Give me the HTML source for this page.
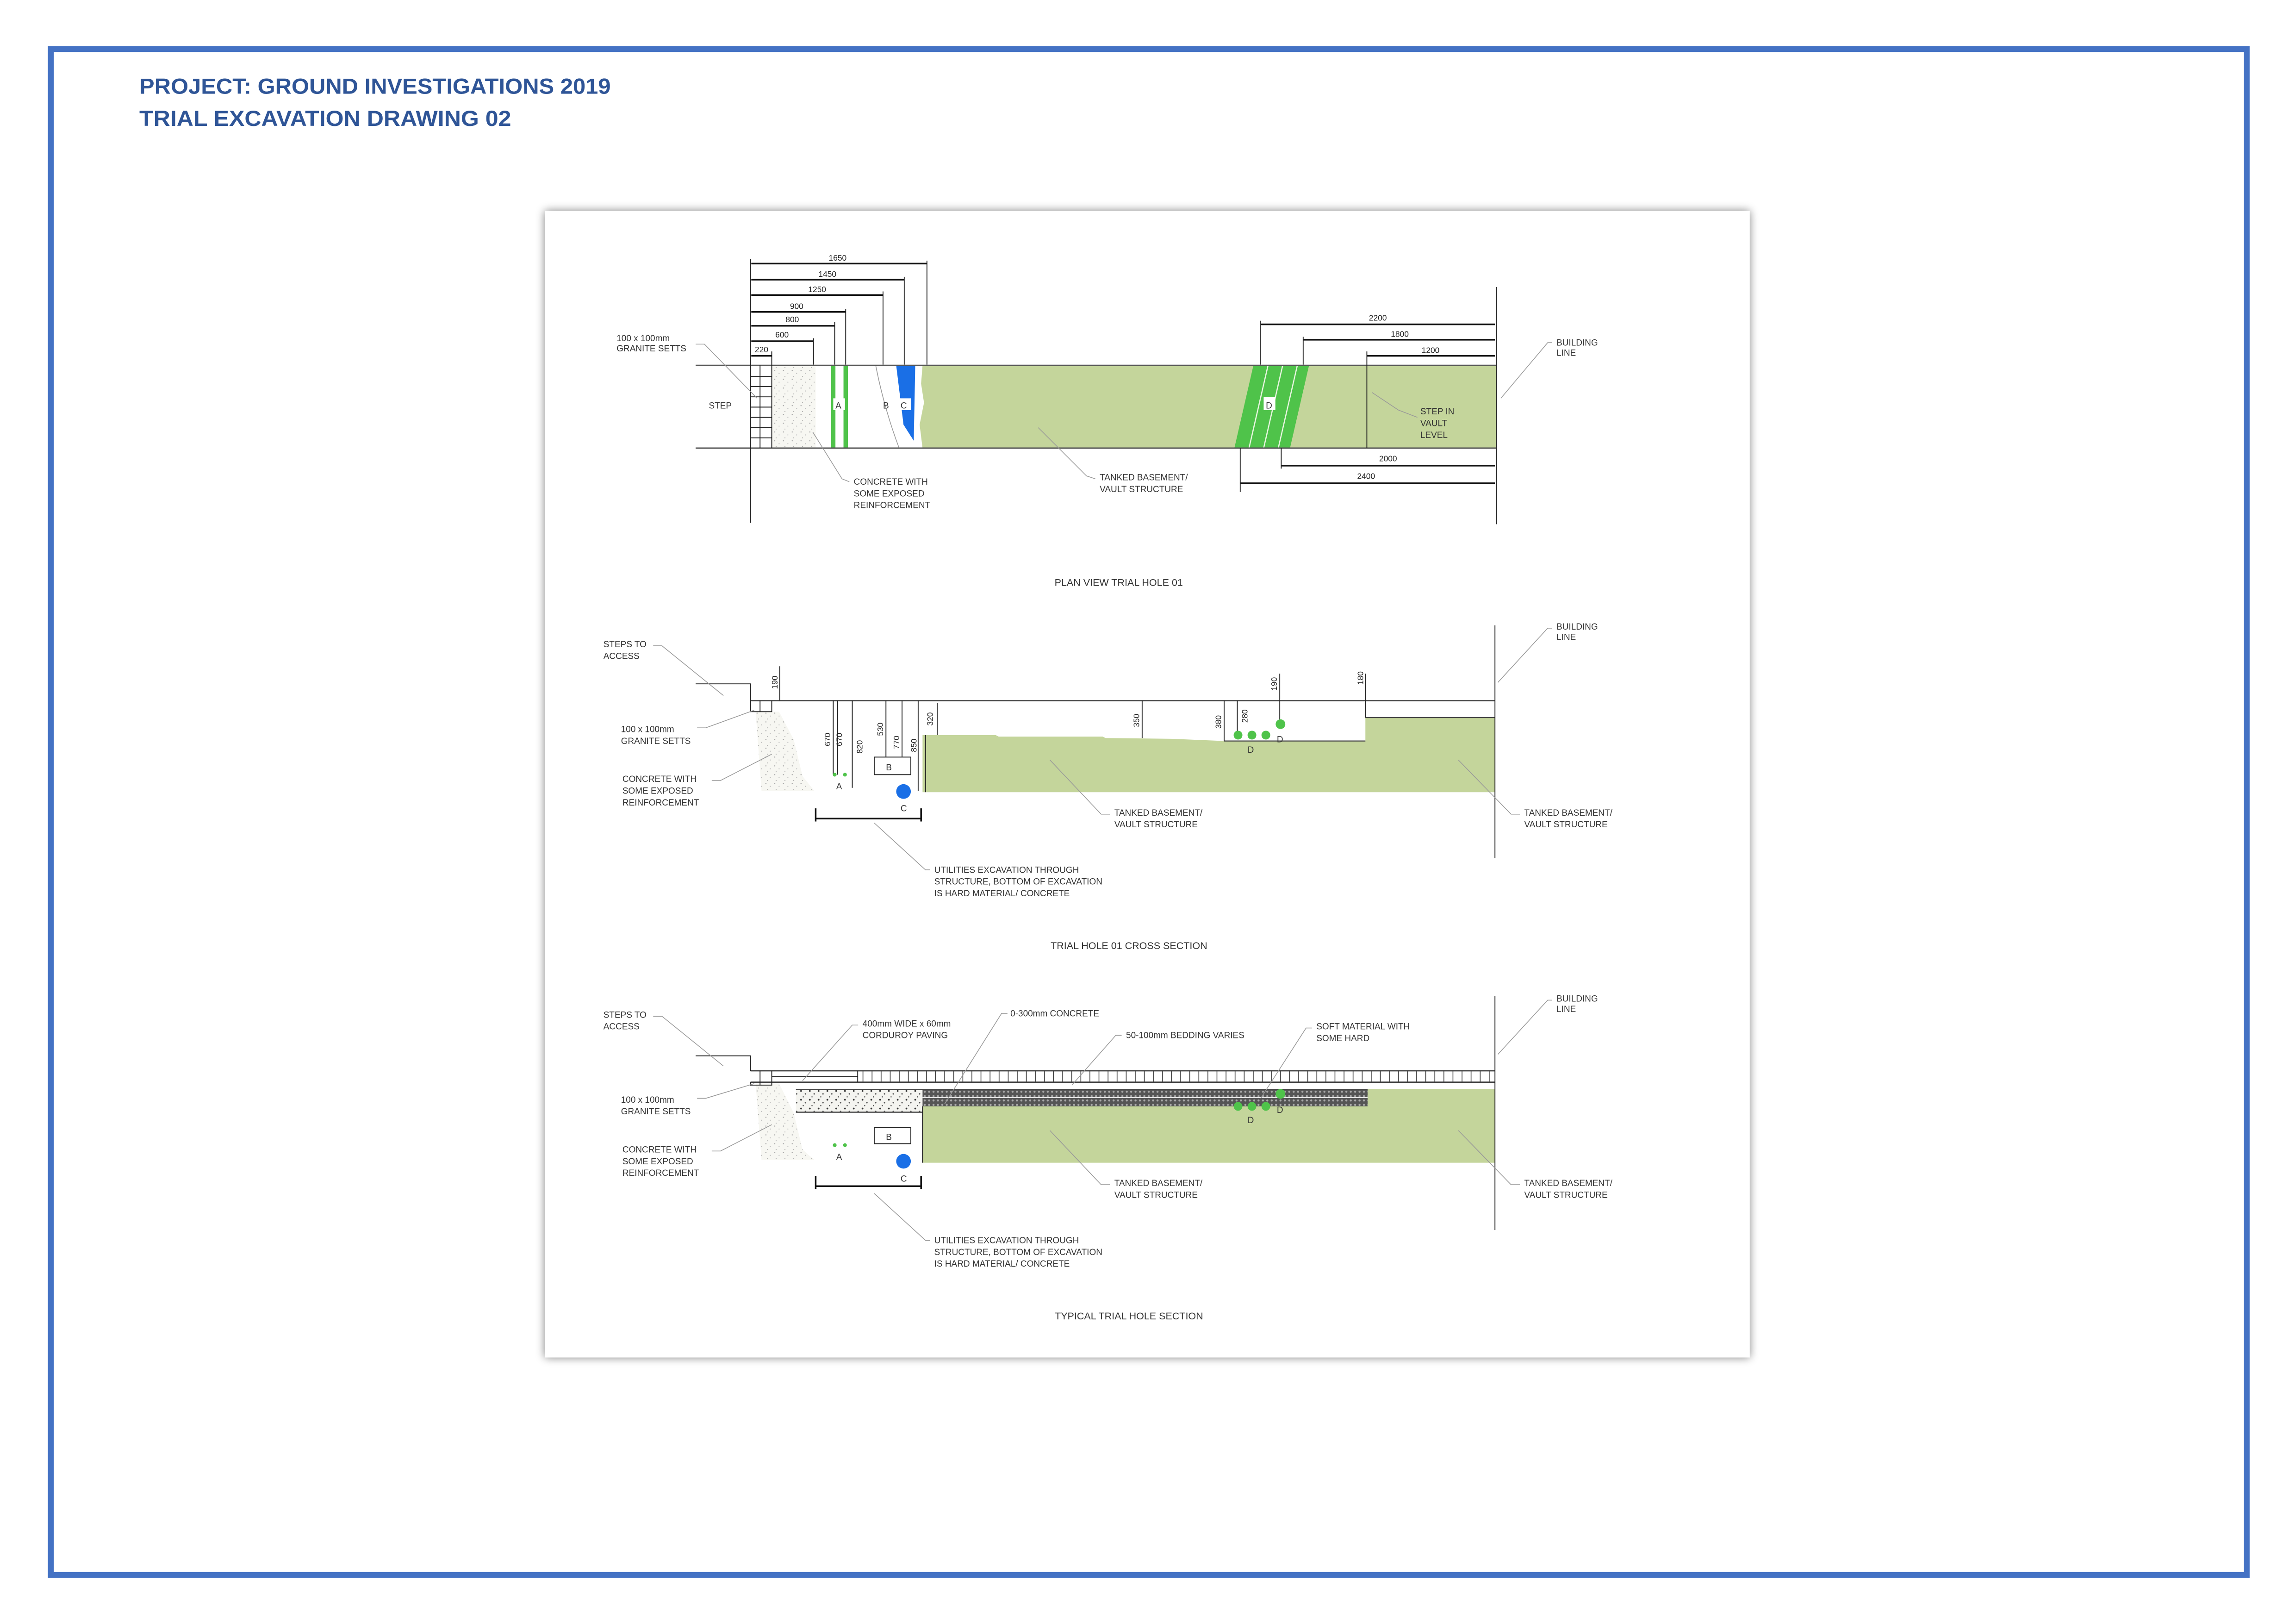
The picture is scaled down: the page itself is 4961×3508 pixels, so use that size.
<!DOCTYPE html>
<html><head><meta charset="utf-8"><style>
html,body{margin:0;padding:0;background:#fff}
svg{display:block}
text{font-family:"Liberation Sans",sans-serif}
.t{font-size:6px;fill:#333}
.d{font-size:5.5px;fill:#222}
.ln{stroke:#222;stroke-width:0.6;fill:none}
.th{stroke:#111;stroke-width:1.1;fill:none}
.ld{stroke:#999;stroke-width:0.5;fill:none}
</style></head><body>
<svg width="4961" height="3508" viewBox="0 0 1568 1109" xmlns="http://www.w3.org/2000/svg">
<defs>
<filter id="sh" x="-5%" y="-5%" width="110%" height="110%"><feGaussianBlur in="SourceAlpha" stdDeviation="3"/><feOffset dx="0" dy="0"/><feComponentTransfer><feFuncA type="linear" slope="0.5"/></feComponentTransfer><feMerge><feMergeNode/><feMergeNode in="SourceGraphic"/></feMerge></filter>
<pattern id="stip" width="6" height="6" patternUnits="userSpaceOnUse"><rect width="6" height="6" fill="#f7f7f2"/><circle cx="1" cy="1" r="0.4" fill="#aaa"/><circle cx="4" cy="3" r="0.35" fill="#bbb"/><circle cx="2" cy="5" r="0.3" fill="#999"/></pattern>
<pattern id="stip2" width="6" height="6" patternUnits="userSpaceOnUse"><rect width="6" height="6" fill="#f4f4f0"/><circle cx="1" cy="1" r="0.6" fill="#333"/><circle cx="4" cy="3" r="0.5" fill="#555"/><circle cx="2.5" cy="5" r="0.4" fill="#444"/></pattern>
<pattern id="cord" width="6.2" height="10" patternUnits="userSpaceOnUse"><line x1="0.3" y1="0" x2="0.3" y2="10" stroke="#333" stroke-width="0.5"/></pattern>
<pattern id="bed" width="3" height="3" patternUnits="userSpaceOnUse"><rect width="3" height="3" fill="#555"/><circle cx="1.5" cy="1.5" r="0.7" fill="#aaa"/></pattern>
</defs>
<rect width="1568" height="1109" fill="#fff"/>
<rect x="34.5" y="33.5" width="1500" height="1042" fill="none" stroke="#4472C4" stroke-width="4"/>
<text x="95" y="64" font-size="15" font-weight="bold" fill="#2F5597" textLength="322" lengthAdjust="spacingAndGlyphs">PROJECT: GROUND INVESTIGATIONS 2019</text>
<text x="95" y="86" font-size="15" font-weight="bold" fill="#2F5597" textLength="254" lengthAdjust="spacingAndGlyphs">TRIAL EXCAVATION DRAWING 02</text>
<rect x="372" y="144" width="823" height="783" fill="#fff" filter="url(#sh)"/>

<!-- ===== PLAN VIEW ===== -->
<g>
<rect x="527" y="249.5" width="30" height="56.5" fill="url(#stip)"/>
<path d="M630,249.5 L1022,249.5 L1022,306 L630,306 L628,290 L631,275 L629,262 Z" fill="#c4d59b"/>
<rect x="567.5" y="249.5" width="3" height="56.5" fill="#4fc34a"/>
<rect x="576" y="249.5" width="3" height="56.5" fill="#4fc34a"/>
<path d="M598,249.5 C602,270 608,290 614,306" class="ld"/>
<path d="M612,249.5 L625,249.5 L624,301 L617,290 Z" fill="#1a6fe6"/>
<path d="M856,249.5 L894,249.5 L881,306 L843,306 Z" fill="#4fc34a"/>
<path d="M866,249.5 L853,306 M876,249.5 L863,306 M886,249.5 L873,306" stroke="#e8f5e0" stroke-width="0.8"/>
<line x1="475" y1="249.5" x2="1022" y2="249.5" stroke="#555" stroke-width="0.9"/>
<line x1="475" y1="306" x2="1022" y2="306" stroke="#555" stroke-width="0.9"/>
<line x1="512.5" y1="177" x2="512.5" y2="357" class="ln"/>
<line x1="1022" y1="196" x2="1022" y2="358" class="ln"/>
<line x1="519" y1="249.5" x2="519" y2="306" class="ln"/>
<line x1="527" y1="240" x2="527" y2="306" class="ln"/>
<g class="ln"><path d="M512,257h15M512,264h15M512,271h15M512,278h15M512,285h15M512,292h15M512,299h15"/></g>
<line x1="933.5" y1="240" x2="933.5" y2="306" class="ln"/>
<g class="th">
<path d="M513,180H633M513,191H617.5M513,201.5H603M513,213H577.5M513,222.5H570M513,233H555.5M513,243H527"/>
<path d="M861,221.5H1021M890,232H1021M933.5,243H1021M875,318H1021M847,330H1021"/>
</g>
<g class="ln">
<path d="M633,178V249M617.5,189V249M603,199V249M577.5,211V249M570,220V249M555.5,231V249"/>
<path d="M861,219V249M890,230V249M875,306V320M847,306V336"/>
</g>
<g class="d" text-anchor="middle">
<text x="572" y="178">1650</text><text x="565" y="189">1450</text><text x="558" y="199.5">1250</text>
<text x="544" y="211">900</text><text x="541" y="220">800</text><text x="534" y="230.5">600</text><text x="520" y="240.5">220</text>
<text x="941" y="219">2200</text><text x="956" y="230">1800</text><text x="977" y="241">1200</text>
<text x="948" y="315">2000</text><text x="933" y="327">2400</text>
</g>
<g class="t" font-size="6.5">
<rect x="569" y="272" width="8" height="8" fill="#fff"/><text x="570.5" y="279">A</text>
<text x="603" y="279">B</text>
<rect x="614" y="272" width="8" height="8" fill="#fff"/><text x="615" y="279">C</text>
<rect x="863" y="271" width="8" height="9" fill="#fff"/><text x="864.5" y="279">D</text>
</g>
<g class="t">
<text x="421" y="233">100 x 100mm</text><text x="421" y="240">GRANITE SETTS</text>
<text x="484" y="279">STEP</text>
<text x="583" y="331">CONCRETE WITH</text><text x="583" y="339">SOME EXPOSED</text><text x="583" y="347">REINFORCEMENT</text>
<text x="751" y="328">TANKED BASEMENT/</text><text x="751" y="336">VAULT STRUCTURE</text>
<text x="970" y="283">STEP IN</text><text x="970" y="291">VAULT</text><text x="970" y="299">LEVEL</text>
<text x="1063" y="236">BUILDING</text><text x="1063" y="243">LINE</text>
<text x="764" y="400" text-anchor="middle" font-size="6.8">PLAN VIEW TRIAL HOLE 01</text>
</g>
<g class="ld"><path d="M475,235H481L517,272M580,329L575,327L555,295M748,327L742,325L709,292M968,285L955,280L937,268M1060,234H1057L1025,272"/></g>
</g>

<!-- ===== CROSS SECTION ===== -->
<g>
<path d="M516,486 L532,486 L542,505 L548,530 L556,540 L520,540 Z" fill="url(#stip)"/>
<path d="M630,502 L680,502 L682,503 L753,503 L755,504 L800,504.5 L836,506 L932.5,506 L932.5,490 L1021,490 L1021,541 L630,541 Z" fill="#c4d59b"/>
<line x1="836" y1="506" x2="932.5" y2="506" stroke="#444" stroke-width="0.7"/>
<line x1="932.5" y1="490" x2="1021" y2="490" stroke="#444" stroke-width="0.7"/>
<line x1="632" y1="502" x2="632" y2="541" class="ln"/>
<line x1="512.5" y1="478.5" x2="1021" y2="478.5" stroke="#444" stroke-width="0.9"/>
<path d="M475,467H512.5V478.5" class="ln"/>
<path d="M512.5,478.5V486H527V478.5M519,478.5V486" class="ln"/>
<line x1="1021" y1="427" x2="1021" y2="586" class="ln"/>
<g class="ln"><path d="M532.5,455V478.5M569,478.5V529M572,478.5V529M582,478.5V538M605,478.5V517M616,478.5V517M627,478.5V540M640,480V502M780,478.5V504M836,478.5V506M845,478.5V502M874,460V494M932.5,460V490"/></g>
<rect x="597" y="517" width="25" height="12" fill="#fff" stroke="#222" stroke-width="0.6"/>
<text x="605" y="526" class="t" font-size="6.5">B</text>
<circle cx="617" cy="540.5" r="5" fill="#1a6fe6"/>
<circle cx="570" cy="529" r="1.3" fill="#4fc34a"/><circle cx="577" cy="529" r="1.3" fill="#4fc34a"/>
<circle cx="845.5" cy="502" r="3" fill="#4fc34a"/><circle cx="855" cy="502" r="3" fill="#4fc34a"/><circle cx="864.5" cy="502" r="3" fill="#4fc34a"/>
<circle cx="874.5" cy="494.5" r="3.3" fill="#4fc34a"/>
<path d="M557,552V561M629,552V561M557,559H629" class="th"/>
<g class="d" text-anchor="middle">
<text transform="translate(531,466) rotate(-90)">190</text>
<text transform="translate(567,505) rotate(-90)">670</text><text transform="translate(575,505) rotate(-90)">670</text>
<text transform="translate(589,510) rotate(-90)">820</text><text transform="translate(603,498) rotate(-90)">530</text>
<text transform="translate(614,507) rotate(-90)">770</text><text transform="translate(626,509) rotate(-90)">850</text>
<text transform="translate(637,491) rotate(-90)">320</text><text transform="translate(778,492) rotate(-90)">350</text>
<text transform="translate(834,493) rotate(-90)">380</text><text transform="translate(852,489) rotate(-90)">280</text>
<text transform="translate(872,467) rotate(-90)">190</text><text transform="translate(931,463) rotate(-90)">180</text>
</g>
<g class="t" font-size="6.5"><text x="571" y="539">A</text><text x="615" y="554">C</text><text x="852" y="514">D</text><text x="872" y="507">D</text></g>
<g class="t">
<text x="412" y="442">STEPS TO</text><text x="412" y="450">ACCESS</text>
<text x="424" y="500">100 x 100mm</text><text x="424" y="508">GRANITE SETTS</text>
<text x="425" y="534">CONCRETE WITH</text><text x="425" y="542">SOME EXPOSED</text><text x="425" y="550">REINFORCEMENT</text>
<text x="761" y="557">TANKED BASEMENT/</text><text x="761" y="565">VAULT STRUCTURE</text>
<text x="1041" y="557">TANKED BASEMENT/</text><text x="1041" y="565">VAULT STRUCTURE</text>
<text x="638" y="596">UTILITIES EXCAVATION THROUGH</text><text x="638" y="604">STRUCTURE, BOTTOM OF EXCAVATION</text><text x="638" y="612">IS HARD MATERIAL/ CONCRETE</text>
<text x="1063" y="430">BUILDING</text><text x="1063" y="437">LINE</text>
<text x="771" y="648" text-anchor="middle" font-size="6.8">TRIAL HOLE 01 CROSS SECTION</text>
</g>
<g class="ld"><path d="M446,441H452L494,475M476,497H482L515,485M486,533H492L527,515M758,556H752L717,519M1038,556H1032L996,519M635,594H632L597,562M1060,429H1057L1023,466"/></g>
</g>

<!-- ===== TYPICAL SECTION ===== -->
<g>
<path d="M516,740 L532,740 L542,760 L548,785 L556,792 L520,792 Z" fill="url(#stip)"/>
<rect x="543.5" y="744" width="86.5" height="15.5" fill="url(#stip2)"/>
<rect x="630" y="744" width="304" height="15.5" fill="url(#bed)"/>
<line x1="630" y1="749.5" x2="934" y2="749.5" stroke="#eee" stroke-width="0.6"/>
<path d="M630,755.5 L934,755.5 L934,743.7 L1021,743.7 L1021,794 L630,794 Z" fill="#c4d59b"/>
<line x1="543.5" y1="744" x2="934" y2="744" stroke="#444" stroke-width="0.8"/>
<line x1="543.5" y1="759.5" x2="630" y2="759.5" stroke="#444" stroke-width="0.8"/>
<line x1="630" y1="755.5" x2="630" y2="794" class="ln"/>
<rect x="585.7" y="731.2" width="435.3" height="7.8" fill="url(#cord)"/>
<line x1="512.5" y1="731.2" x2="1021" y2="731.2" stroke="#444" stroke-width="0.9"/>
<line x1="512.5" y1="739" x2="1021" y2="739" stroke="#444" stroke-width="0.9"/>
<line x1="527" y1="735" x2="585.7" y2="735" class="ln"/>
<line x1="585.7" y1="731.2" x2="585.7" y2="739" class="ln"/>
<path d="M475,721H512.5V731.2" class="ln"/>
<path d="M512.5,739V741H527V731.2M519,731.2V741" class="ln"/>
<line x1="1021" y1="680" x2="1021" y2="840" class="ln"/>
<rect x="597" y="770" width="25" height="11" fill="#fff" stroke="#222" stroke-width="0.6"/>
<text x="605" y="778.5" class="t" font-size="6.5">B</text>
<circle cx="617" cy="793" r="5" fill="#1a6fe6"/>
<circle cx="570" cy="782" r="1.3" fill="#4fc34a"/><circle cx="577" cy="782" r="1.3" fill="#4fc34a"/>
<circle cx="845.5" cy="755.5" r="3" fill="#4fc34a"/><circle cx="855" cy="755.5" r="3" fill="#4fc34a"/><circle cx="864.5" cy="755.5" r="3" fill="#4fc34a"/>
<circle cx="874.5" cy="747" r="3.3" fill="#4fc34a"/>
<path d="M557,803V812M629,803V812M557,810H629" class="th"/>
<g class="t" font-size="6.5"><text x="571" y="792">A</text><text x="615" y="807">C</text><text x="852" y="767">D</text><text x="872" y="760">D</text></g>
<g class="t">
<text x="412" y="695">STEPS TO</text><text x="412" y="703">ACCESS</text>
<text x="424" y="753">100 x 100mm</text><text x="424" y="761">GRANITE SETTS</text>
<text x="425" y="787">CONCRETE WITH</text><text x="425" y="795">SOME EXPOSED</text><text x="425" y="803">REINFORCEMENT</text>
<text x="589" y="701">400mm WIDE x 60mm</text><text x="589" y="709">CORDUROY PAVING</text>
<text x="690" y="694">0-300mm CONCRETE</text>
<text x="769" y="709">50-100mm BEDDING VARIES</text>
<text x="899" y="703">SOFT MATERIAL WITH</text><text x="899" y="711">SOME HARD</text>
<text x="761" y="810">TANKED BASEMENT/</text><text x="761" y="818">VAULT STRUCTURE</text>
<text x="1041" y="810">TANKED BASEMENT/</text><text x="1041" y="818">VAULT STRUCTURE</text>
<text x="638" y="849">UTILITIES EXCAVATION THROUGH</text><text x="638" y="857">STRUCTURE, BOTTOM OF EXCAVATION</text><text x="638" y="865">IS HARD MATERIAL/ CONCRETE</text>
<text x="1063" y="684">BUILDING</text><text x="1063" y="691">LINE</text>
<text x="771" y="901" text-anchor="middle" font-size="6.8">TYPICAL TRIAL HOLE SECTION</text>
</g>
<g class="ld"><path d="M446,694H452L494,728M476,750H482L515,740M486,786H492L527,768M586,700H582L548,738M688,692H684L645,754M766,707H762L732,741M896,702H892L861,750M758,809H752L717,772M1038,809H1032L996,772M635,847H632L597,815M1060,683H1057L1023,720"/></g>
</g>
</svg>
</body></html>
